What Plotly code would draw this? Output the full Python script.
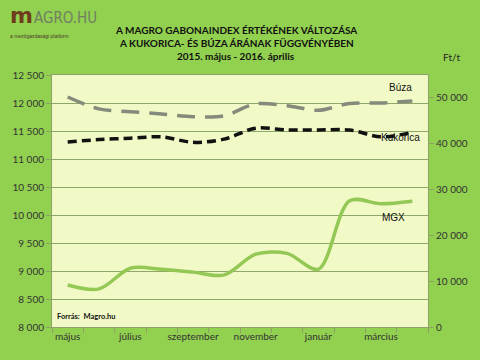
import plotly.graph_objects as go

months = ["május", "június", "július", "augusztus", "szeptember", "október",
          "november", "december", "január", "február", "március", "április"]
buza = [50200, 47600, 47000, 46500, 45900, 46100, 48700, 48300, 47300, 48800, 48900, 49300]
kukorica = [40400, 40900, 41200, 41500, 40300, 41000, 43400, 43000, 43000, 43000, 41500, 42500]
mgx = [8750, 8680, 9050, 9030, 8980, 8930, 9300, 9315, 9030, 10255, 10200, 10245]

left_ticks = [8000, 8500, 9000, 9500, 10000, 10500, 11000, 11500, 12000, 12500]
right_ticks = [0, 10000, 20000, 30000, 40000, 50000]
x_label_idx = [0, 2, 4, 6, 8, 10]

def fmt(v):
    return f"{v:,}".replace(",", " ")

x = list(range(len(months)))
FONT = "Lato, Calibri, sans-serif"

fig = go.Figure()
fig.add_trace(go.Scatter(x=x, y=mgx, mode="lines", yaxis="y",
                         line=dict(color="#93C855", width=3.5, shape="spline", smoothing=0.9),
                         showlegend=False))
fig.add_trace(go.Scatter(x=x, y=buza, mode="lines", yaxis="y2",
                         line=dict(color="#858B7C", width=3.5, shape="spline", smoothing=0.9,
                                   dash="18px,10px"),
                         showlegend=False))
fig.add_trace(go.Scatter(x=x, y=kukorica, mode="lines", yaxis="y2",
                         line=dict(color="#111111", width=3.5, shape="spline", smoothing=0.9,
                                   dash="9px,5px"),
                         showlegend=False))

axis_font = dict(family=FONT, size=10, color="#333333")
fig.update_layout(
    width=480, height=360,
    margin=dict(l=48, r=48, t=75, b=33),
    paper_bgcolor="#92D050",
    plot_bgcolor="#F1F9C6",
    xaxis=dict(range=[-0.5, 11.5], tickmode="array", tickvals=x_label_idx,
               ticktext=[months[i] for i in x_label_idx], ticks="", tickfont=axis_font,
               showgrid=False, zeroline=False, showline=True, linecolor="#8FA06A", linewidth=1,
               mirror=True,
               minor=dict(tickmode="array", tickvals=[i - 0.5 for i in range(13)],
                          ticks="outside", ticklen=5, tickcolor="#8FA06A", showgrid=False)),
    yaxis=dict(range=[8000, 12500], tickmode="array", tickvals=left_ticks,
               ticktext=[fmt(v) for v in left_ticks], tickfont=axis_font,
               ticks="outside", ticklen=5, tickcolor="#8FA06A",
               showgrid=True, gridcolor="#8FA86A", gridwidth=1, zeroline=False,
               showline=True, linecolor="#8FA06A", mirror=True),
    yaxis2=dict(range=[0, 55000], tickmode="array", tickvals=right_ticks,
                ticktext=[fmt(v) for v in right_ticks], tickfont=axis_font,
                overlaying="y", side="right", ticks="outside", ticklen=5,
                tickcolor="#8FA06A", showgrid=False, zeroline=False, showline=False),
)

ann = [
    dict(text="<b>A MAGRO GABONAINDEX ÉRTÉKÉNEK VÁLTOZÁSA</b>", x=236, y=30, size=10),
    dict(text="<b>A KUKORICA- ÉS BÚZA ÁRÁNAK FÜGGVÉNYÉBEN</b>", x=236, y=43, size=10),
    dict(text="<b>2015. május - 2016. április</b>", x=236, y=56, size=10),
]
for a in ann:
    fig.add_annotation(text=a["text"], xref="paper", yref="paper",
                       x=(a["x"] - 48) / 384, y=1 - (a["y"] - 75) / 252,
                       showarrow=False, xanchor="center", yanchor="middle",
                       font=dict(family=FONT, size=a["size"], color="#111111"))

def px_to_paper(px, py):
    return (px - 48) / 384, 1 - (py - 75) / 252

def add_text(text, px, py, size, color="#111111", xanchor="left", family=FONT):
    xx, yy = px_to_paper(px, py)
    fig.add_annotation(text=text, xref="paper", yref="paper", x=xx, y=yy,
                       showarrow=False, xanchor=xanchor, yanchor="middle",
                       font=dict(family=family, size=size, color=color))

add_text("Ft/t", 445, 57, 10, "#222222")
add_text("Búza", 418, 87, 10, "#111111", xanchor="right", family="Arial, sans-serif")
add_text("Kukorica", 426, 137, 10, "#111111", xanchor="right", family="Arial, sans-serif")
add_text("MGX", 411, 217, 10, "#111111", xanchor="right", family="Arial, sans-serif")
add_text("<b>Forrás:  Magro.hu</b>", 51, 316, 7.5, "#111111")

# logo
add_text("<b>m</b>", 3, 16, 22, "#6E3B1C", family="DejaVu Sans, sans-serif")
add_text("AGRO.HU", 28, 18, 15, "#6F7F63", family="DejaVu Sans Condensed, Arial, sans-serif")
add_text("a mezőgazdasági platform", 3, 36, 5, "#4A3A2A", family="Arial, sans-serif")

fig.write_html("out.html")
